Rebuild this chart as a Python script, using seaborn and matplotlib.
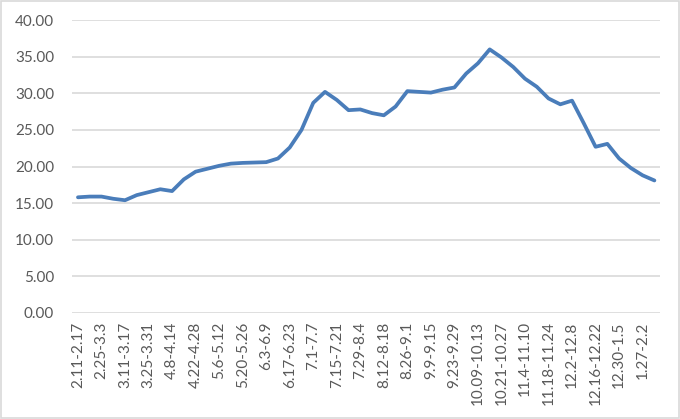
import pandas as pd
import matplotlib.pyplot as plt
import seaborn as sns

# weekly periods (every other one is labelled on the axis)
weeks = [
    "2.11-2.17", "2.18-2.24", "2.25-3.3", "3.4-3.10", "3.11-3.17", "3.18-3.24",
    "3.25-3.31", "4.1-4.7", "4.8-4.14", "4.15-4.21", "4.22-4.28", "4.29-5.5",
    "5.6-5.12", "5.13-5.19", "5.20-5.26", "5.27-6.2", "6.3-6.9", "6.10-6.16",
    "6.17-6.23", "6.24-6.30", "7.1-7.7", "7.8-7.14", "7.15-7.21", "7.22-7.28",
    "7.29-8.4", "8.5-8.11", "8.12-8.18", "8.19-8.25", "8.26-9.1", "9.2-9.8",
    "9.9-9.15", "9.16-9.22", "9.23-9.29", "9.30-10.8", "10.09-10.13", "10.14-10.20",
    "10.21-10.27", "10.28-11.3", "11.4-11.10", "11.11-11.17", "11.18-11.24", "11.25-12.1",
    "12.2-12.8", "12.9-12.15", "12.16-12.22", "12.23-12.29", "12.30-1.5", "1.6-1.12",
    "1.27-2.2", "2.3-2.9",
]
values = [
    15.8, 15.9, 15.9, 15.6, 15.4, 16.1, 16.5, 16.9, 16.65, 18.25,
    19.3, 19.7, 20.1, 20.4, 20.5, 20.55, 20.6, 21.1, 22.6, 25.0,
    28.7, 30.2, 29.1, 27.7, 27.8, 27.3, 27.0, 28.2, 30.3, 30.2,
    30.1, 30.5, 30.8, 32.7, 34.1, 36.0, 34.9, 33.6, 32.0, 30.9,
    29.3, 28.5, 29.0, 25.9, 22.7, 23.1, 21.1, 19.8, 18.8, 18.1,
]

df = pd.DataFrame({"pos": range(len(weeks)), "week": weeks, "value": values})

sns.set_theme(style="white")
plt.rcParams["font.family"] = ["Lato", "DejaVu Sans"]

fig = plt.figure(figsize=(6.8, 4.19), dpi=100)
ax = fig.add_axes([0.106, 0.253, 0.865, 0.699])

sns.lineplot(data=df, x="pos", y="value", color="#4A7DBA", linewidth=2.7, ax=ax)

ax.set_xlim(-0.5, len(weeks) - 0.5)
ax.set_ylim(0, 40)
ax.set_yticks(range(0, 41, 5))
ax.set_yticklabels([f"{v:.2f}" for v in range(0, 41, 5)])
ax.set_xticks(df["pos"][::2])
ax.set_xticklabels(df["week"][::2], rotation=90)
ax.tick_params(axis="both", colors="#595959", labelsize=11, length=0)
ax.tick_params(axis="y", pad=13)
ax.tick_params(axis="x", pad=6)
ax.set_xlabel("")
ax.set_ylabel("")

ax.grid(axis="y", color="#D9D9D9", linewidth=1.2)
ax.set_axisbelow(True)
for s in ax.spines.values():
    s.set_visible(False)

# outer chart-area border
fig.patches.append(plt.Rectangle((0.002, 0.003), 0.996, 0.994, transform=fig.transFigure,
                                 fill=False, edgecolor="#D9D9D9", linewidth=1.2))

fig.savefig("out.png", dpi=100)
plt.close()
